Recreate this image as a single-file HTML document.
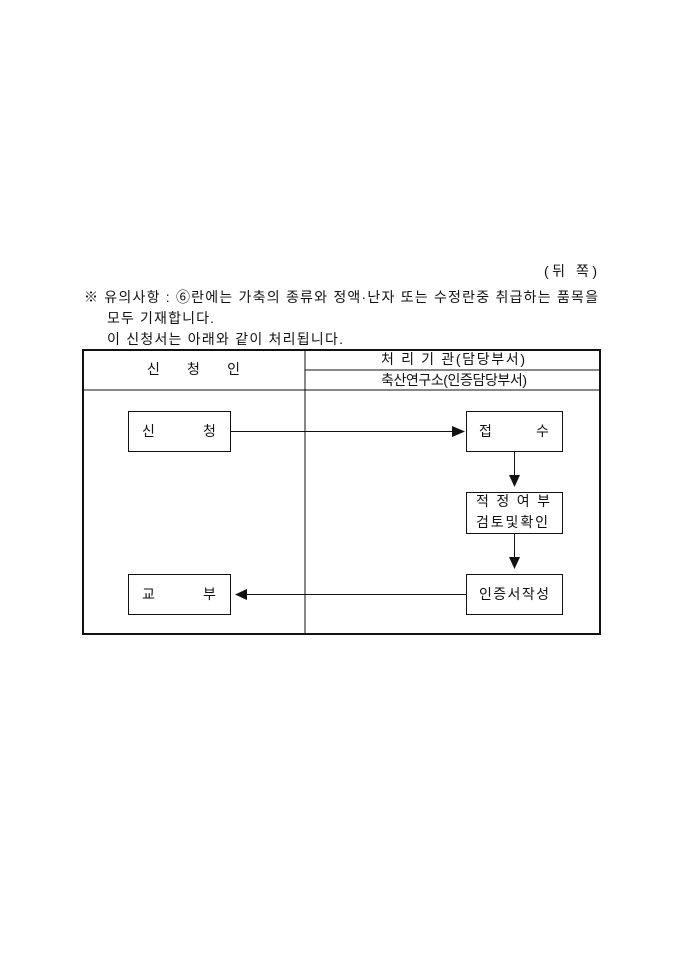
<!DOCTYPE html>
<html><head><meta charset="utf-8"><style>
body{margin:0;background:#fff;width:680px;height:962px;position:relative;}
svg text{font-family:"Liberation Sans","Noto Sans CJK KR","NanumGothic",sans-serif;font-size:14px;fill:#111}
</style></head><body>
<svg width="680" height="962" style="position:absolute;left:0;top:0" xmlns="http://www.w3.org/2000/svg">
<g fill="none" stroke="#111">
<rect x="83" y="350" width="517" height="284" stroke-width="2"/>
<line x1="305" y1="350" x2="305" y2="634"/>
<line x1="83" y1="390" x2="600" y2="390"/>
<line x1="305" y1="370" x2="600" y2="370"/>
<rect x="128.5" y="411.5" width="102" height="40"/>
<rect x="128.5" y="574.5" width="102" height="40"/>
<rect x="466.5" y="411.5" width="96" height="40"/>
<rect x="466.5" y="492.5" width="96" height="41"/>
<rect x="466.5" y="574.5" width="96" height="40"/>
<line x1="231" y1="431.5" x2="453" y2="431.5"/>
<line x1="514.5" y1="452" x2="514.5" y2="476"/>
<line x1="514.5" y1="534" x2="514.5" y2="558"/>
<line x1="246" y1="594.5" x2="466" y2="594.5"/>
</g>
<g fill="#111">
<polygon points="452,426 465,431.5 452,437"/>
<polygon points="509,475 520,475 514.5,487"/>
<polygon points="509,557 520,557 514.5,569"/>
<polygon points="247,589 247,600 235,594.5"/>
</g>
<text x="544" y="276" textLength="53" lengthAdjust="spacing">(뒤  쪽)</text>
<text x="84" y="302" textLength="514" lengthAdjust="spacing">※ 유의사항 : ⑥란에는 가축의 종류와 정액·난자 또는 수정란중 취급하는 품목을</text>
<text x="107" y="323" textLength="107" lengthAdjust="spacing">모두 기재합니다.</text>
<text x="107" y="344" textLength="236" lengthAdjust="spacing">이 신청서는 아래와 같이 처리됩니다.</text>
<text x="147" y="374" textLength="93" lengthAdjust="spacing">신    청    인</text>
<text x="381" y="364" textLength="144" lengthAdjust="spacing">처 리 기 관(담당부서)</text>
<text x="381" y="385" textLength="146" lengthAdjust="spacing">축산연구소(인증담당부서)</text>
<text x="142" y="436">신</text>
<text x="203" y="436">청</text>
<text x="142" y="599">교</text>
<text x="203" y="599">부</text>
<text x="479" y="436">접</text>
<text x="536" y="436">수</text>
<text x="476" y="506" textLength="74" lengthAdjust="spacing">적 정 여 부</text>
<text x="476" y="527" textLength="72" lengthAdjust="spacing">검토및확인</text>
<text x="479" y="599" textLength="70" lengthAdjust="spacing">인증서작성</text>
</svg>
</body></html>
